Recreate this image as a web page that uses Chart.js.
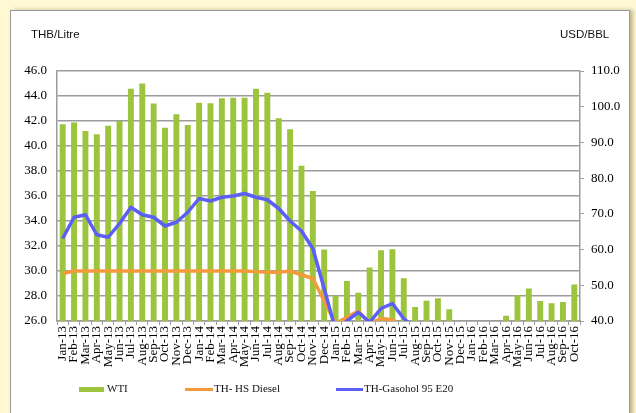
<!DOCTYPE html>
<html>
<head>
<meta charset="utf-8">
<script src="https://cdn.jsdelivr.net/npm/chart.js@4"></script>
<style>
  html, body { margin: 0; padding: 0; }
  body { width: 636px; height: 413px; background: #fff8d3; position: relative; overflow: hidden; }
  #panel {
    position: absolute; left: 10px; top: 10px; width: 618px; height: 420px;
    background: #fff; border: 1px solid #9a9a9a;
    box-shadow: 3px 0 4px rgba(140, 130, 80, 0.55);
  }
  #chart { position: absolute; left: 0; top: 0; }
  .unit { position: absolute; top: 28px; font: 11.5px "Liberation Sans", Arial, sans-serif; color: #111; }
  .leg { position: absolute; font: 11px "Liberation Serif", "Times New Roman", serif; color: #111; top: 382px; }
  .key { position: absolute; }
</style>
</head>
<body>
<div id="panel"></div>
<canvas id="chart" width="636" height="413"></canvas>

<div class="unit" style="left:31px">THB/Litre</div>
<div class="unit" style="left:560px">USD/BBL</div>

<div class="key" style="left:79px;top:387px;width:25px;height:5px;background:#9cc43c"></div>
<div class="leg" style="left:107px">WTI</div>
<div class="key" style="left:185px;top:388px;width:28px;height:3px;background:#f59a3c"></div>
<div class="leg" style="left:214px">TH- HS Diesel</div>
<div class="key" style="left:336px;top:388px;width:27px;height:3px;background:#5c5ff7"></div>
<div class="leg" style="left:364px">TH-Gasohol 95 E20</div>

<script>
// months Jan-13 .. Oct-16
const months = ['Jan-13','Feb-13','Mar-13','Apr-13','May-13','Jun-13','Jul-13','Aug-13','Sep-13','Oct-13','Nov-13','Dec-13',
  'Jan-14','Feb-14','Mar-14','Apr-14','May-14','Jun-14','Jul-14','Aug-14','Sep-14','Oct-14','Nov-14','Dec-14',
  'Jan-15','Feb-15','Mar-15','Apr-15','May-15','Jun-15','Jul-15','Aug-15','Sep-15','Oct-15','Nov-15','Dec-15',
  'Jan-16','Feb-16','Mar-16','Apr-16','May-16','Jun-16','Jul-16','Aug-16','Sep-16','Oct-16'];

// WTI, USD/BBL (right axis)
const wti = [95.1, 95.6, 93.2, 92.3, 94.7, 96.0, 105.0, 106.5, 100.9, 94.1, 97.9, 94.9,
  101.1, 101.0, 102.4, 102.5, 102.5, 105.0, 103.9, 96.8, 93.7, 83.5, 76.4, 60.0,
  47.1, 51.2, 47.9, 55.0, 59.8, 60.1, 52.0, 43.9, 45.7, 46.4, 43.3, 37.2,
  31.7, 30.3, 37.6, 41.5, 47.2, 49.1, 45.6, 45.0, 45.3, 50.2];

// retail prices, THB/Litre (left axis)
const diesel = [29.8, 30.0, 30.0, 30.0, 30.0, 30.0, 30.0, 30.0, 30.0, 30.0, 30.0, 30.0,
  30.0, 30.0, 30.0, 30.0, 30.0, 29.95, 29.9, 29.9, 30.0, 29.7, 29.4, 27.6,
  25.8, 26.3, 26.8, 25.8, 26.2, 26.1, 25.5, 24.6, 24.8, 24.6, 24.4, 23.5,
  22.3, 22.0, 22.6, 23.0, 23.8, 24.4, 23.9, 23.8, 23.9, 24.4];
const gasohol = [32.6, 34.3, 34.5, 32.9, 32.7, 33.8, 35.1, 34.5, 34.3, 33.6, 33.9, 34.7,
  35.8, 35.6, 35.9, 36.0, 36.2, 35.9, 35.7, 35.0, 34.0, 33.2, 31.8, 28.6,
  25.3, 26.0, 26.7, 25.9, 27.0, 27.4, 26.2, 25.4, 25.0, 25.1, 24.8, 24.3,
  23.6, 23.4, 24.0, 24.3, 24.8, 25.2, 24.7, 24.5, 24.6, 25.1];

const gridGray = '#9c9c9c';
const serif = 'Liberation Serif';

new Chart(document.getElementById('chart'), {
  data: {
    labels: months,
    datasets: [
      { type: 'line', label: 'TH-Gasohol 95 E20', data: gasohol, yAxisID: 'y', order: 1,
        borderColor: '#5c5ff7', borderWidth: 3.5, pointRadius: 0, tension: 0, borderJoinStyle: 'round' },
      { type: 'line', label: 'TH- HS Diesel', data: diesel, yAxisID: 'y', order: 2,
        borderColor: '#f59a3c', borderWidth: 3.5, pointRadius: 0, tension: 0, borderJoinStyle: 'round' },
      { type: 'bar', label: 'WTI', data: wti, yAxisID: 'y1', order: 3, clip: 0,
        backgroundColor: '#9cc43c', barPercentage: 0.52, categoryPercentage: 1 }
    ]
  },
  options: {
    responsive: false,
    animation: false,
    devicePixelRatio: 1,
    layout: { padding: { left: 0, right: 0, top: 71, bottom: 0 } },
    plugins: { legend: { display: false }, tooltip: { enabled: false } },
    scales: {
      x: {
        offset: true,
        grid: { drawOnChartArea: false, drawTicks: true, tickLength: 4, color: gridGray, offset: true },
        border: { color: gridGray, width: 1.5 },
        ticks: { autoSkip: false, minRotation: 90, maxRotation: 90, padding: 1,
          color: '#000', font: { family: serif, size: 13 } },
        afterFit: s => { s.height = 92; }
      },
      y: {
        position: 'left', min: 26, max: 46,
        grid: { color: gridGray, lineWidth: 1.5, drawTicks: false },
        border: { color: gridGray, width: 1.5 },
        ticks: { stepSize: 2, padding: 10, color: '#000', font: { family: serif, size: 13 },
          callback: v => v.toFixed(1) },
        afterFit: s => { s.width = 57; }
      },
      y1: {
        position: 'right', min: 40, max: 110,
        grid: { drawOnChartArea: false, drawTicks: true, tickLength: 4, color: gridGray },
        border: { color: gridGray, width: 1.5 },
        ticks: { stepSize: 10, padding: 7, color: '#000', font: { family: serif, size: 13 },
          callback: v => v.toFixed(1) },
        afterFit: s => { s.width = 56; }
      }
    }
  }
});
</script>
</body>
</html>
